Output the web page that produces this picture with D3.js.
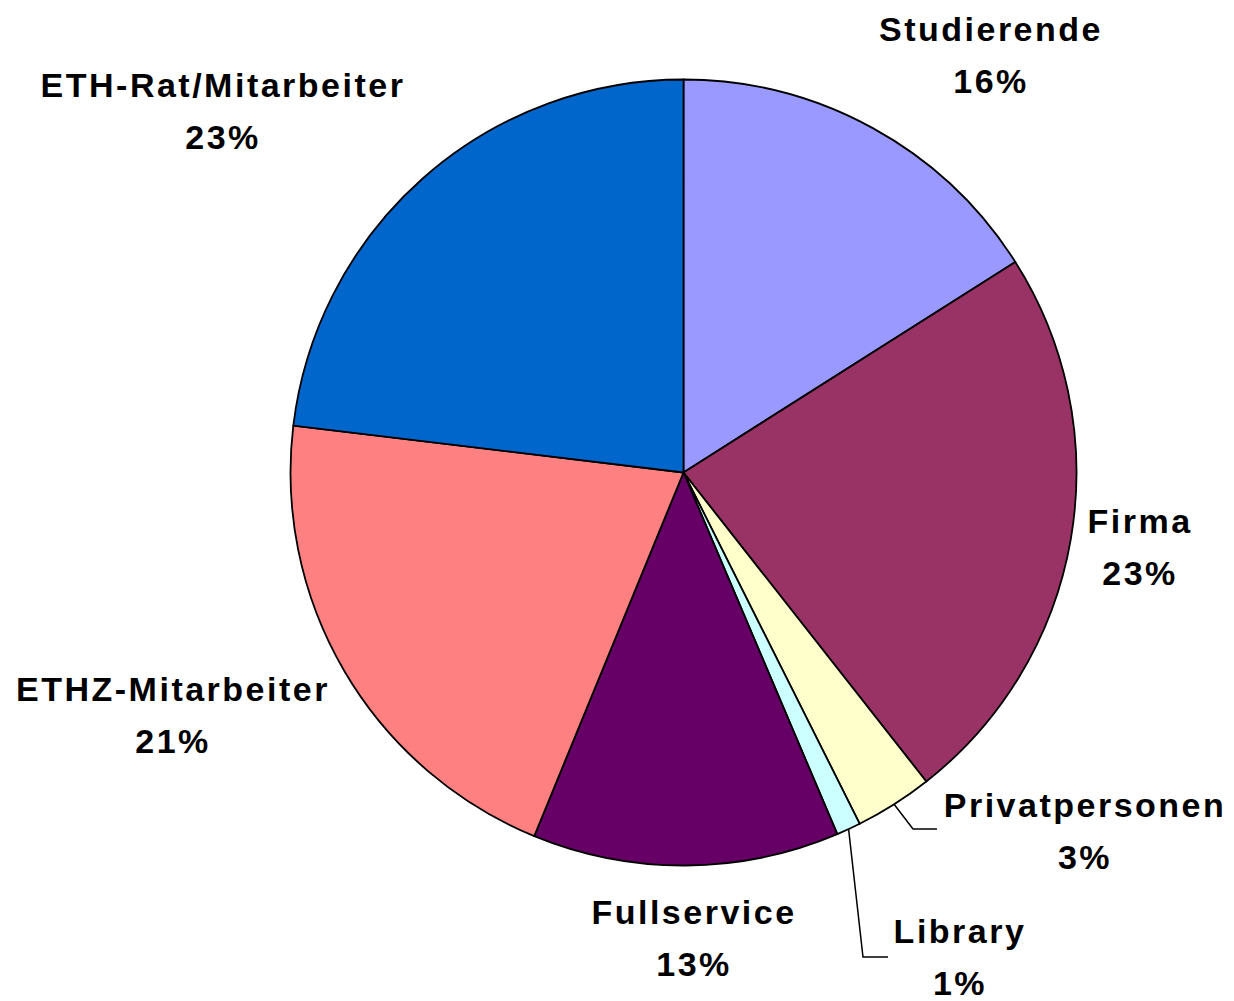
<!DOCTYPE html>
<html>
<head>
<meta charset="utf-8">
<script src="https://cdn.jsdelivr.net/npm/d3@7"></script>
<style>
  html, body { margin: 0; padding: 0; background: #fff; }
  .label { font-family: "Liberation Sans", Arial, sans-serif; font-weight: bold; font-size: 34px; letter-spacing: 2.5px; fill: #000; }
</style>
</head>
<body>
<script>
const width = 1234, height = 1001;
const cx = 683.5, cy = 472.5, radius = 393;

// data, clockwise from 12 o'clock
const categories = ["Studierende", "Firma", "Privatpersonen", "Library", "Fullservice", "ETHZ-Mitarbeiter", "ETH-Rat/Mitarbeiter"];
const shares = [16.0, 23.4, 3.2, 1.0, 12.6, 20.7, 23.1];
const colors = ["#9999FF", "#993366", "#FFFFCC", "#CCFFFF", "#660066", "#FF8080", "#0066CC"];

// label layout: centre x, baseline of first line
const labelPos = {
    "Studierende": [991, 41],
    "Firma": [1140, 533],
    "Privatpersonen": [1085, 817],
    "Library": [960, 943],
    "Fullservice": [694, 924],
    "ETHZ-Mitarbeiter": [173, 701],
    "ETH-Rat/Mitarbeiter": [223, 97]
};
// leader lines: bend point and end point
const leaders = {
    "Privatpersonen": [[913, 829], [937, 829]],
    "Library": [[863, 957], [888, 957]]
};

const data = categories.map((c, i) => ({ name: c, value: shares[i], color: colors[i] }));

const svg = d3.select("body")
    .append("svg")
    .attr("width", width)
    .attr("height", height)

const pie = d3.pie().value(d => d.value).sort(null)
const arc = d3.arc().innerRadius(0).outerRadius(radius)
const arcs = pie(data)

const g = svg.append("g").attr("transform", "translate(" + cx + "," + cy + ")")

g.selectAll("path")
    .data(arcs)
    .enter()
    .append("path")
    .attr("d", arc)
    .attr("fill", d => d.data.color)
    .attr("stroke", "#000")
    .attr("stroke-width", 1.8)
    .attr("stroke-linejoin", "round")

// leader lines from the rim
arcs.filter(d => leaders[d.data.name]).forEach(d => {
    const a = (d.startAngle + d.endAngle) / 2
    const start = [cx + radius * Math.sin(a), cy - radius * Math.cos(a)]
    const pts = [start].concat(leaders[d.data.name])
    svg.append("path")
        .attr("d", d3.line()(pts))
        .attr("fill", "none")
        .attr("stroke", "#000")
        .attr("stroke-width", 1.5)
})

const labels = svg.selectAll("text.label")
    .data(data)
    .enter()
    .append("text")
    .attr("class", "label")
    .attr("text-anchor", "middle")
    .attr("x", d => labelPos[d.name][0])
    .attr("y", d => labelPos[d.name][1])

labels.append("tspan")
    .attr("x", d => labelPos[d.name][0])
    .text(d => d.name)
labels.append("tspan")
    .attr("x", d => labelPos[d.name][0])
    .attr("dy", 52)
    .text(d => Math.round(d.value) + "%")
</script>
</body>
</html>
